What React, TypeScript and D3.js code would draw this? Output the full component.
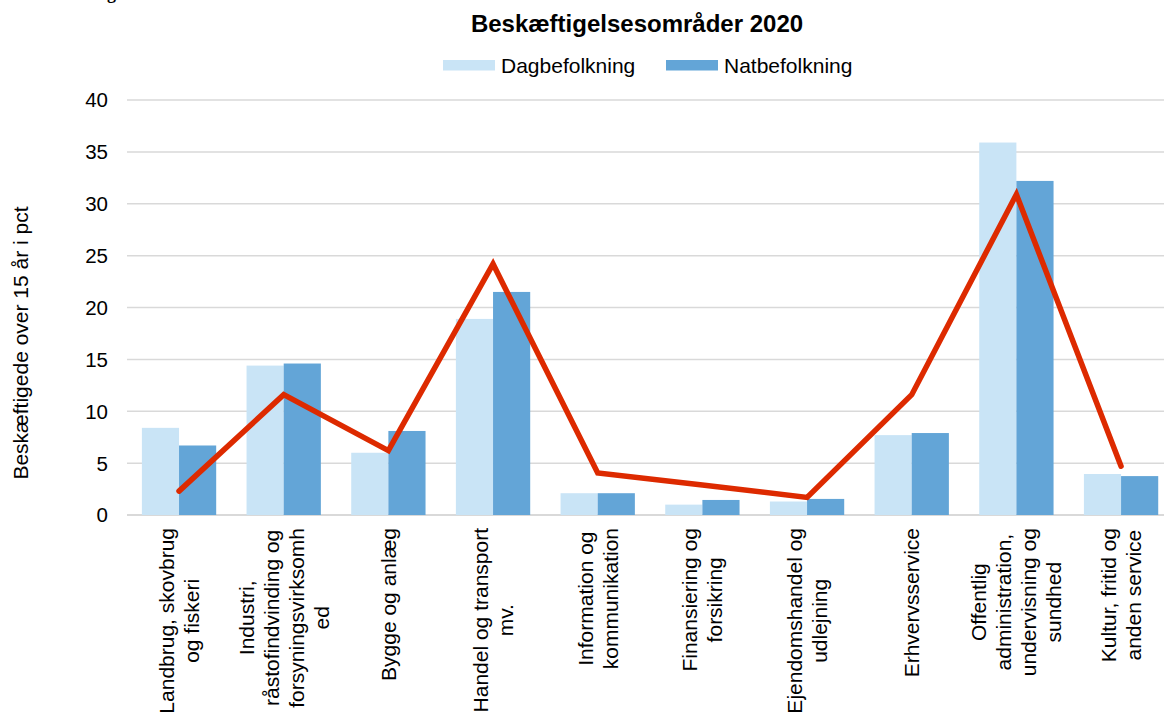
import React from "react";
import * as d3 from "d3";

const categories: string[][] = [
  ["Landbrug, skovbrug", "og fiskeri"],
  ["Industri,", "råstofindvinding og", "forsyningsvirksomh", "ed"],
  ["Bygge og anlæg"],
  ["Handel og transport", "mv."],
  ["Information og", "kommunikation"],
  ["Finansiering og", "forsikring"],
  ["Ejendomshandel og", "udlejning"],
  ["Erhvervsservice"],
  ["Offentlig", "administration,", "undervisning og", "sundhed"],
  ["Kultur, fritid og", "anden service"],
];
const dagbefolkning = [8.4, 14.4, 6.0, 18.9, 2.1, 1.0, 1.3, 7.7, 35.9, 3.95];
const natbefolkning = [6.7, 14.6, 8.1, 21.5, 2.1, 1.45, 1.55, 7.9, 32.2, 3.75];
const lineValues = [2.3, 11.6, 6.2, 24.2, 4.05, 2.9, 1.7, 11.6, 30.9, 4.7];
const yTicks = [0, 5, 10, 15, 20, 25, 30, 35, 40];
const seriesNames = ["Dagbefolkning", "Natbefolkning"];
const title = "Beskæftigelsesområder 2020";
const yLabel = "Beskæftigede over 15 år i pct";

const FONT = "'Liberation Sans', Arial, sans-serif";
const LIGHT = "#C9E4F6";
const DARK = "#63A5D7";
const RED = "#DD2A00";

let ctx: CanvasRenderingContext2D | null = null;
function measure(text: string, size: number): number {
  if (!ctx) ctx = document.createElement("canvas").getContext("2d");
  if (!ctx) return text.length * size * 0.5;
  ctx.font = `${size}px 'Liberation Sans', Arial, sans-serif`;
  return ctx.measureText(text).width;
}

export default function App() {
  const W = 1164;
  const H = 713;
  const keys = categories.map((c) => c.join(" "));
  const x0 = d3
    .scaleBand<string>()
    .domain(keys)
    .range([126.7, 1173.4])
    .paddingInner(0.29)
    .paddingOuter(0.145);
  const x1 = d3
    .scaleBand<string>()
    .domain(seriesNames)
    .range([0, x0.bandwidth()]);
  const y = d3.scaleLinear().domain([0, 40]).range([515, 100]);
  const series = [dagbefolkning, natbefolkning];
  const colors = [LIGHT, DARK];
  const cx = (k: string) => (x0(k) as number) + x0.bandwidth() / 2;
  const line = d3
    .line<number>()
    .x((_, i) => cx(keys[i]))
    .y((d) => y(d));

  const labelSize = 21;
  const lineGap = 25;

  return (
    <div style={{ position: "absolute", left: 0, top: 0 }}>
      <svg width={W} height={H} style={{ display: "block", background: "#fff" }}>
        <text x={107} y={-1} fontFamily="'Liberation Serif', 'Times New Roman', serif" fontWeight="bold" fontSize={18} fill="#000">g</text>
        <text x={637} y={32} textAnchor="middle" fontFamily={FONT} fontWeight="bold" fontSize={24} fill="#000">
          {title}
        </text>
        {/* legend */}
        <rect x={443} y={60} width={52} height={10.5} fill={LIGHT} />
        <text x={501} y={72.5} fontFamily={FONT} fontSize={21} fill="#000">{seriesNames[0]}</text>
        <rect x={666} y={60} width={52} height={10.5} fill={DARK} />
        <text x={724} y={72.5} fontFamily={FONT} fontSize={21} fill="#000">{seriesNames[1]}</text>
        {/* grid */}
        {yTicks.map((t) => (
          <g key={t}>
            <line x1={127} x2={W} y1={y(t)} y2={y(t)} stroke="#D9D9D9" strokeWidth={t === 0 ? 2 : 1.5} />
            <text x={108} y={y(t) + 7.4} textAnchor="end" fontFamily={FONT} fontSize={20.5} fill="#000">{t}</text>
          </g>
        ))}
        <text
          transform={`translate(28,343) rotate(-90)`}
          textAnchor="middle"
          fontFamily={FONT}
          fontSize={21}
          fill="#000"
        >
          {yLabel}
        </text>
        {/* bars */}
        {keys.map((k, i) => (
          <g key={k} transform={`translate(${x0(k)},0)`}>
            {series.map((s, j) => (
              <rect
                key={j}
                x={x1(seriesNames[j])}
                y={y(s[i])}
                width={x1.bandwidth()}
                height={y(0) - y(s[i])}
                fill={colors[j]}
              />
            ))}
          </g>
        ))}
        {/* line */}
        <path d={line(lineValues) || ""} fill="none" stroke={RED} strokeWidth={5.5} strokeLinecap="round" strokeLinejoin="miter" />
        {/* x labels */}
        {categories.map((lines, i) => {
          const k = keys[i];
          const maxW = Math.max(...lines.map((l) => measure(l, labelSize)));
          const cy = 528 + maxW / 2;
          const c = cx(k);
          return (
            <g key={k}>
              {lines.map((l, li) => {
                const lx = c + (li - (lines.length - 1) / 2) * lineGap;
                return (
                  <text
                    key={li}
                    transform={`translate(${lx + 7.5},${cy}) rotate(-90)`}
                    textAnchor="middle"
                    fontFamily={FONT}
                    fontSize={labelSize}
                    fill="#000"
                  >
                    {l}
                  </text>
                );
              })}
            </g>
          );
        })}
      </svg>
    </div>
  );
}
